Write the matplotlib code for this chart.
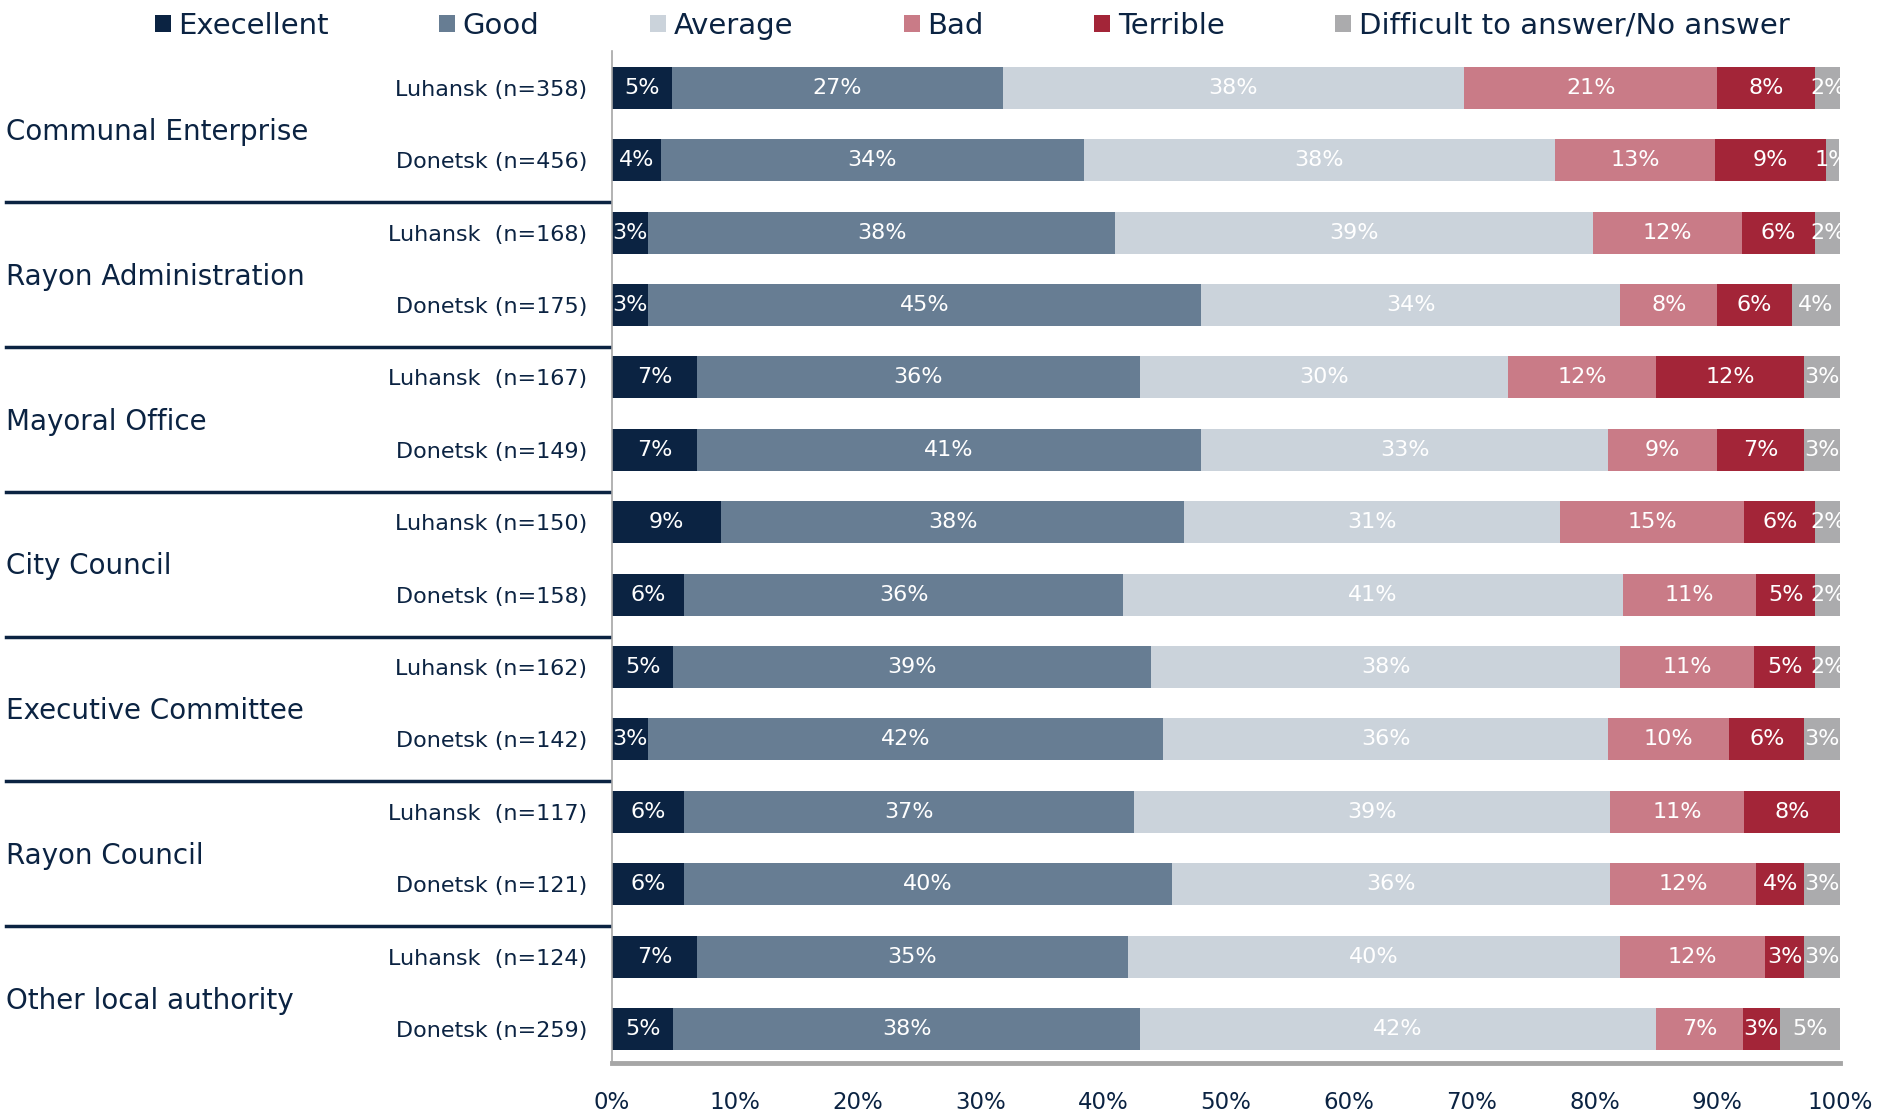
import matplotlib.pyplot as plt
import matplotlib.transforms as mtransforms
from matplotlib.lines import Line2D

# answer categories and their colours
categories = ["Execellent", "Good", "Average", "Bad", "Terrible",
              "Difficult to answer/No answer"]
colors = ["#0B2342", "#677D93", "#CBD3DB", "#C97B87", "#A32538", "#ABABAD"]

groups = ["Communal Enterprise", "Rayon Administration", "Mayoral Office",
          "City Council", "Executive Committee", "Rayon Council",
          "Other local authority"]
rows = ["Luhansk (n=358)", "Donetsk (n=456)",
        "Luhansk  (n=168)", "Donetsk (n=175)",
        "Luhansk  (n=167)", "Donetsk (n=149)",
        "Luhansk (n=150)", "Donetsk (n=158)",
        "Luhansk (n=162)", "Donetsk (n=142)",
        "Luhansk  (n=117)", "Donetsk (n=121)",
        "Luhansk  (n=124)", "Donetsk (n=259)"]

# shares in percent
excellent = [4.9, 4.0, 2.9, 2.9, 6.9, 6.9, 8.9, 5.9, 5.0, 2.9, 5.9, 5.9, 6.9, 5.0]
good = [26.9, 34.4, 38.1, 45.1, 36.1, 41.1, 37.7, 35.7, 38.9, 42.0, 36.6, 39.7, 35.1, 38.0]
average = [37.6, 38.4, 38.9, 34.1, 30.0, 33.1, 30.6, 40.7, 38.2, 36.2, 38.8, 35.7, 40.1, 42.0]
bad = [20.6, 13.0, 12.1, 7.9, 12.0, 8.9, 15.0, 10.9, 10.9, 9.9, 10.9, 11.9, 11.8, 7.1]
terrible = [8.0, 9.1, 6.0, 6.1, 12.1, 7.1, 5.8, 4.8, 5.0, 6.1, 7.8, 3.9, 3.2, 3.0]
no_answer = [2.0, 1.0, 2.0, 3.9, 2.9, 2.9, 2.0, 2.0, 2.0, 2.9, 0.0, 2.9, 2.9, 4.9]

series = [excellent, good, average, bad, terrible, no_answer]
navy = "#0B2342"

W, H = 1883, 1118
fig = plt.figure(figsize=(W / 100, H / 100), dpi=100)
ax = fig.add_axes([612 / W, 1 - 1063 / H, (1840 - 612) / W, (1063 - 51) / H])

y = list(range(len(rows)))
left = [0.0] * len(rows)
for name, vals, col in zip(categories, series, colors):
    ax.barh(y, vals, left=left, height=0.58, color=col, label=name)
    for i, v in enumerate(vals):
        if v > 0:
            ax.text(left[i] + v / 2, i, f"{v:.0f}%", ha="center", va="center",
                    color="white", fontsize=16, clip_on=True)
    left = [a + b for a, b in zip(left, vals)]

ax.set_xlim(0, 100)
ax.set_ylim(len(rows) - 0.53, -0.51)
ax.set_xticks(range(0, 101, 10))
ax.set_xticklabels([f"{t}%" for t in range(0, 101, 10)])
ax.set_yticks(y)
ax.set_yticklabels(rows)
ax.tick_params(axis="x", length=0, pad=20, labelsize=16.5, labelcolor=navy)
ax.tick_params(axis="y", length=0, pad=18, labelsize=16, labelcolor=navy)

for s in ["top", "right"]:
    ax.spines[s].set_visible(False)
ax.spines["left"].set_color("#A6A6A6")
ax.spines["left"].set_linewidth(1.2)
ax.spines["bottom"].set_color("#A6A6A6")
ax.spines["bottom"].set_linewidth(3.5)

# group names and separators on the left
trans = mtransforms.blended_transform_factory(fig.transFigure, ax.transData)
for k, g in enumerate(groups):
    fig.text(6 / W, 2 * k + 0.61, g, transform=trans, ha="left", va="center",
             fontsize=20, color=navy)
    if k > 0:
        yy = 2 * k - 0.42
        fig.add_artist(Line2D([6 / W, 609 / W], [yy, yy], transform=trans,
                              color=navy, lw=2.5))

fig.legend(loc="center", bbox_to_anchor=(972 / W, 1 - 26 / H), ncol=6,
           frameon=False, fontsize=21, handlelength=0.55, handleheight=0.55,
           handletextpad=0.25, columnspacing=3.8, labelcolor=navy)

fig.savefig("out.png", dpi=100)
